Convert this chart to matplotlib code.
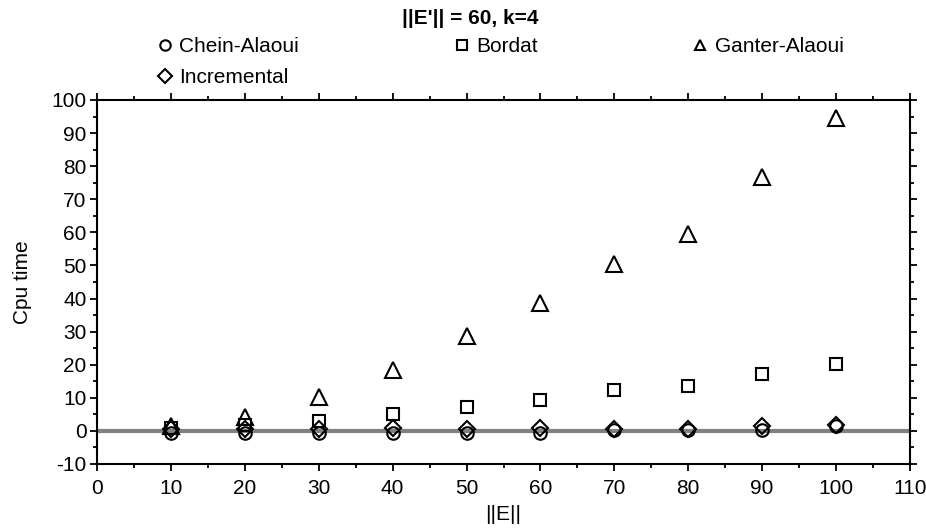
import matplotlib
matplotlib.use("Agg")
import matplotlib.pyplot as plt
from matplotlib.ticker import MultipleLocator

plt.rcParams['font.family'] = ['Liberation Sans', 'DejaVu Sans']
plt.rcParams['axes.unicode_minus'] = False

edges = [10, 20, 30, 40, 50, 60, 70, 80, 90, 100]
chein_alaoui = [-0.5, -0.5, -0.5, -0.5, -0.5, -0.5, 0.3, 0.3, 0.4, 1.4]
bordat = [0.8, 1.8, 3.0, 5.1, 7.3, 9.4, 12.4, 13.6, 17.2, 20.2]
ganter_alaoui = [1.6, 4.2, 10.3, 18.4, 28.7, 38.7, 50.5, 59.5, 76.7, 94.6]
incremental = [0.5, 0.6, 0.6, 0.8, 0.6, 0.8, 0.6, 0.5, 1.4, 1.8]

FS = 15

fig = plt.figure(figsize=(9.26, 5.31), dpi=100)
ax = fig.add_axes([0.1048, 0.1262, 0.8779, 0.6855])

ax.axhline(0, color='#808080', lw=3, zorder=1)

mk = dict(linestyle='none', markerfacecolor='none', markeredgecolor='black',
          markeredgewidth=1.5, zorder=3)
h1, = ax.plot(edges, chein_alaoui, marker='o', markersize=9, label='Chein-Alaoui', **mk)
h2, = ax.plot(edges, bordat, marker='s', markersize=9, label='Bordat', **mk)
h3, = ax.plot(edges, ganter_alaoui, marker='^', markersize=11, label='Ganter-Alaoui', **mk)
h4, = ax.plot(edges, incremental, marker='D', markersize=8, label='Incremental', **mk)

ax.set_xlim(0, 110)
ax.set_ylim(-10, 100)
ax.xaxis.set_major_locator(MultipleLocator(10))
ax.xaxis.set_minor_locator(MultipleLocator(5))
ax.yaxis.set_major_locator(MultipleLocator(10))
ax.yaxis.set_minor_locator(MultipleLocator(5))
ax.tick_params(which='both', direction='out', top=True, right=True,
               labeltop=False, labelright=False, width=1.3, labelsize=FS)
ax.tick_params(axis='x', pad=6)
ax.tick_params(axis='y', pad=2.5)
ax.tick_params(which='major', length=5)
ax.tick_params(which='minor', length=3)
for s in ax.spines.values():
    s.set_linewidth(1.5)

ax.set_xlabel('||E||', fontsize=FS, labelpad=5)
ax.set_ylabel('Cpu time', fontsize=FS, labelpad=14)

fig.text(0.5075, 1 - 19 / 531, "||E'|| = 60, k=4", ha='center', va='center',
         fontsize=FS, fontweight='bold')

leg = fig.legend(handles=[h1, h4, h2, h3], labels=['Chein-Alaoui', 'Incremental', 'Bordat', 'Ganter-Alaoui'],
                 ncol=3, frameon=False, loc='center left', bbox_to_anchor=(0.169, 0.883),
                 fontsize=FS, handlelength=0.8, handletextpad=0.3, columnspacing=7.4,
                 labelspacing=0.55, borderpad=0, borderaxespad=0)
for lh in leg.legend_handles:
    lh.set_markersize(7.5)

fig.savefig('out.png', dpi=100)
